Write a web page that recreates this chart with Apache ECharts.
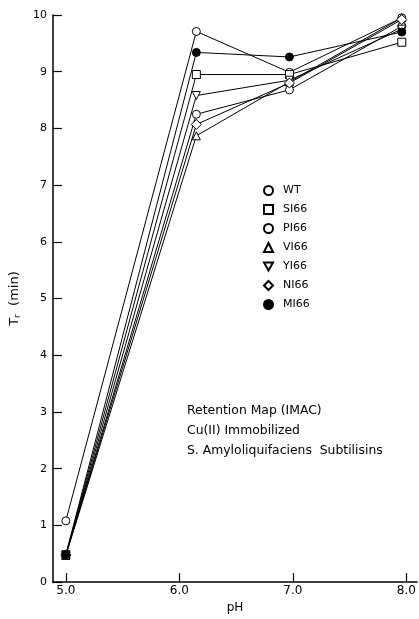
<!DOCTYPE html>
<html>
<head>
<meta charset="utf-8">
<script src="https://cdn.jsdelivr.net/npm/echarts@6/dist/echarts.min.js"></script>
<style>
html,body{margin:0;padding:0;background:#fff;}
#chart{width:419px;height:619px;}
</style>
</head>
<body>
<div id="chart"></div>
<script>
// pH values at which retention was measured
const phValues = [5.0, 6.15, 6.97, 7.96];
const xTicks = [5, 6, 7, 8];

// Retention time T_r (min) for each variant
const WT   = [1.08, 9.71, 8.99, 9.95];
const SI66 = [0.48, 8.95, 8.95, 9.52];
const PI66 = [0.48, 8.25, 8.68, 9.80];
const VI66 = [0.47, 7.87, 8.82, 9.95];
const YI66 = [0.48, 8.58, 8.85, 9.75];
const NI66 = [0.48, 8.07, 8.80, 9.92];
const MI66 = [0.48, 9.34, 9.26, 9.70];

const variants = [
  {name: 'WT',   values: WT,   symbol: 'circle',  filled: false},
  {name: 'SI66', values: SI66, symbol: 'rect',    filled: false},
  {name: 'PI66', values: PI66, symbol: 'circle',  filled: false},
  {name: 'VI66', values: VI66, symbol: 'triangle', filled: false},
  {name: 'YI66', values: YI66, symbol: 'path://M0,0 L10,0 L5,9 Z', filled: false},
  {name: 'NI66', values: NI66, symbol: 'diamond', filled: false},
  {name: 'MI66', values: MI66, symbol: 'circle',  filled: true}
];

const FONT = '"DejaVu Sans", sans-serif';

const series = variants.map(v => ({
  name: v.name,
  type: 'line',
  data: v.values.map((y, i) => [phValues[i], y]),
  symbol: v.symbol,
  symbolSize: v.symbol === 'diamond' ? 10 : 8,
  showSymbol: true,
  lineStyle: {color: '#000', width: 1},
  itemStyle: {color: v.filled ? '#000' : '#fff', borderColor: '#000', borderWidth: 1},
  emphasis: {disabled: true},
  animation: false
}));

const chart = echarts.init(document.getElementById('chart'), null, {renderer: 'canvas'});
chart.setOption({
  backgroundColor: '#fff',
  animation: false,
  grid: {left: 52, right: 2, top: 15, bottom: 33},
  xAxis: {
    type: 'value',
    min: 4.886,
    max: 8.094,
    name: 'pH',
    nameLocation: 'middle',
    nameGap: 19,
    nameTextStyle: {fontFamily: FONT, fontSize: 12, color: '#000'},
    axisLine: {show: true, onZero: false, lineStyle: {color: '#000', width: 1.5}},
    axisTick: {show: true, inside: true, length: 9, customValues: xTicks, lineStyle: {color: '#000', width: 1.2}},
    axisLabel: {customValues: xTicks, formatter: v => v.toFixed(1), fontFamily: FONT, fontSize: 12, color: '#000', margin: 3},
    splitLine: {show: false}
  },
  yAxis: {
    type: 'value',
    min: 0,
    max: 10,
    interval: 1,
    name: '{t|T}{s|r}{t|  (min)}',
    nameLocation: 'middle',
    nameGap: 27,
    nameRotate: 90,
    nameTextStyle: {
      rich: {
        t: {fontFamily: FONT, fontSize: 13, color: '#000'},
        s: {fontFamily: FONT, fontSize: 9, color: '#000', verticalAlign: 'bottom', padding: [6, 0, 0, 0]}
      }
    },
    axisLine: {show: true, lineStyle: {color: '#000', width: 1.5}},
    axisTick: {show: true, inside: true, length: 9, lineStyle: {color: '#000', width: 1.2}},
    axisLabel: {fontFamily: FONT, fontSize: 11, color: '#000', margin: 6},
    splitLine: {show: false}
  },
  legend: {
    orient: 'vertical',
    left: 258,
    top: 180,
    itemGap: 8,
    itemWidth: 9,
    itemHeight: 9,
    textStyle: {fontFamily: FONT, fontSize: 11, color: '#000', padding: [0, 0, 0, 5]},
    data: variants.map(v => ({name: v.name, icon: v.symbol})),
    selectedMode: false
  },
  graphic: [
    {type: 'text', left: 187, top: 405, style: {text: 'Retention Map (IMAC)', font: '12.4px ' + FONT, fill: '#000'}},
    {type: 'text', left: 187, top: 425, style: {text: 'Cu(II) Immobilized', font: '12.4px ' + FONT, fill: '#000'}},
    {type: 'text', left: 187, top: 445, style: {text: 'S. Amyloliquifaciens  Subtilisins', font: '12.4px ' + FONT, fill: '#000'}}
  ],
  series: series
});
</script>
</body>
</html>
